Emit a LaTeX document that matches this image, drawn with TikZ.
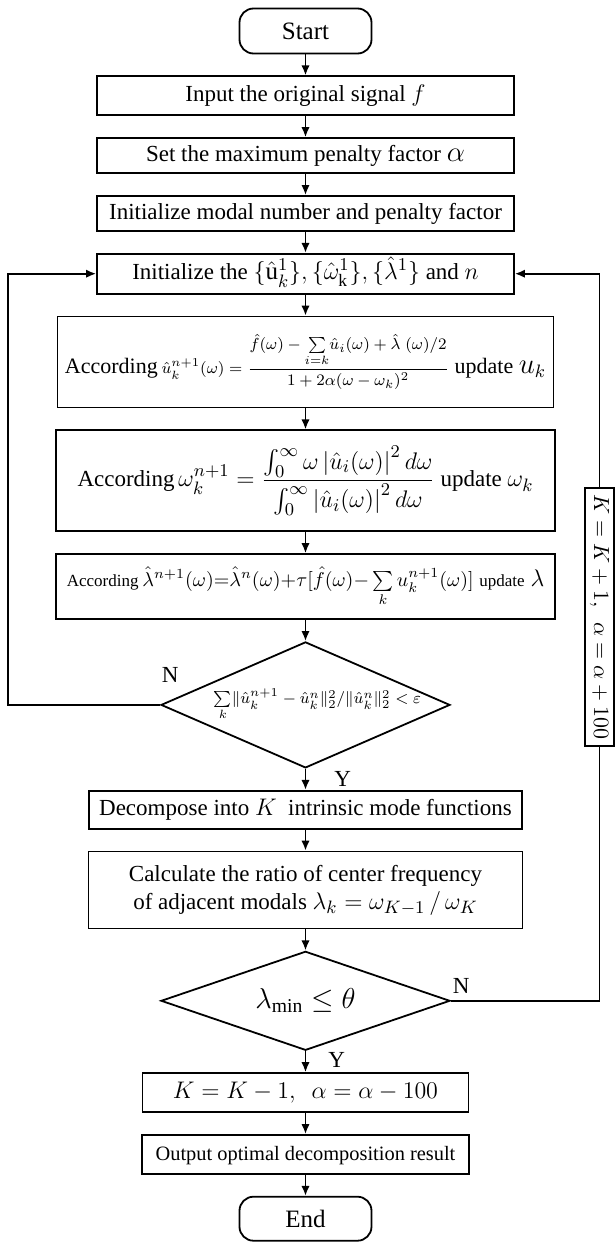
\documentclass[tikz,border=0pt]{standalone}
\usepackage{amsmath}
\usepackage{fontspec}
\setmainfont{Liberation Serif}
\usepackage{tikz}
\usetikzlibrary{shapes,arrows,positioning,calc,arrows.meta}
\usetikzlibrary{shapes.geometric}

\begin{document}
\begin{tikzpicture}[node distance=10.5pt, auto, line width=0.9pt,
    process/.style={rectangle, draw, align=center, inner sep=1.5pt, font=\fontsize{11.5}{14}\selectfont},
    oneline/.style={text height=9pt, text depth=3pt},
    term/.style={rectangle, draw, rounded corners=7pt, minimum width=66pt, minimum height=22.5pt, font=\fontsize{12.5}{15}\selectfont},
    decision/.style={diamond, draw, inner sep=0pt, minimum width=144.5pt, font=\fontsize{8.1}{12}\selectfont},
    tag/.style={inner sep=0pt, font=\fontsize{11.5}{14}\selectfont},
    flow/.style={draw, -{Latex[length=5pt, width=4.2pt]}}]
    \useasboundingbox (-152.75pt,15.5pt) rectangle (154.75pt,-605.5pt);

    \node[term] (start) at (0,0) {Start};
    \node[process, oneline, minimum width=208.5pt, minimum height=19.5pt, below=of start] (input) {Input the original signal $f$};
    \node[process, oneline, minimum width=208.5pt, minimum height=17.5pt, below=of input] (setmax) {Set the maximum penalty factor {\fontsize{14}{14}\selectfont$\alpha$}};
    \node[process, oneline, minimum width=208.5pt, minimum height=17.5pt, below=of setmax] (initmod) {Initialize modal number and penalty factor};
    \node[process, oneline, minimum width=208.5pt, minimum height=20pt, below=of initmod] (init) {Initialize the {\fontsize{12.5}{14}\selectfont$\{\hat{\mathrm{u}}_k^1\},\{\hat{\omega}_{\mathrm{k}}^1\},\{\hat{\lambda}^1\}$} and $n$};
    \node[process, minimum width=248pt, minimum height=45.5pt, below=of init, font=\fontsize{11}{13}\selectfont] (updu) {According\,{\fontsize{8.2}{10}\selectfont$\hat{u}_k^{n+1}(\omega) = \dfrac{\hat{f}(\omega) - {\textstyle\sum\limits_{i=k}}\hat{u}_i(\omega) + \hat{\lambda}\;(\omega)/2}{1 + 2\alpha(\omega - \omega_k)^2}$}\ update {\fontsize{13.5}{14}\selectfont$u_k$}};
    \node[process, minimum width=249.5pt, minimum height=50.5pt, below=of updu] (updw) {According\,{\fontsize{13}{15}\selectfont$\omega_k^{n+1} = \dfrac{\textstyle\int_0^\infty \omega\left|\hat{u}_i(\omega)\right|^2 d\omega}{\textstyle\int_0^\infty \left|\hat{u}_i(\omega)\right|^2 d\omega}$}\ update {\fontsize{13}{14}\selectfont$\omega_k$}};
    \node[process, minimum width=249.5pt, minimum height=32.5pt, below=of updw] (updl) {{\fontsize{8.5}{10}\selectfont According}\,{\fontsize{9.8}{12}\selectfont$\hat{\lambda}^{n+1}(\omega){=}\hat{\lambda}^n(\omega){+}\tau[\hat{f}(\omega){-}\sum\limits_k u_k^{n+1}(\omega)]$}\ {\fontsize{8.5}{11}\selectfont update} {\fontsize{11.5}{12}\selectfont$\lambda$}};
    \node[decision, minimum height=63pt, below=of updl] (conv) {\makebox[0pt]{\hspace*{12pt}$\sum\limits_k \lVert\hat{u}_k^{n+1} - \hat{u}_k^n\rVert_2^2 / \lVert\hat{u}_k^n\rVert_2^2 < \varepsilon$}};
    \node[process, oneline, minimum width=216.5pt, minimum height=19pt, below=of conv] (decomp) {Decompose into $K$\ \ intrinsic mode functions};
    \node[process, minimum width=217pt, minimum height=38.5pt, below=of decomp] (ratio) {Calculate the ratio of center frequency\\ of adjacent modals {\fontsize{13}{14}\selectfont$\lambda_k = \omega_{K-1} \,/\, \omega_K$}};
    \node[decision, minimum height=49.5pt, below=of ratio, font=\fontsize{14}{16}\selectfont] (check) {\makebox[0pt]{$\lambda_{\min} \le \theta$}};
    \node[process, oneline, minimum width=163pt, minimum height=19.5pt, below=of check, font=\fontsize{12}{14}\selectfont] (kminus) {$K = K-1,\ \ \alpha = \alpha - 100$};
    \node[process, oneline, minimum width=163.5pt, minimum height=19.5pt, below=of kminus, font=\fontsize{10.2}{12}\selectfont] (output) {Output optimal decomposition result};
    \node[term, minimum height=22pt, below=of output] (stop) {End};

    % loop back on the right
    \node[rectangle, draw, rotate=-90, inner sep=1pt, minimum width=129pt, minimum height=14.5pt, font=\fontsize{11}{13}\selectfont] (kplus) at (147pt,-293pt) {$K = K+1,\ \ \alpha = \alpha + 100$};
    \coordinate[left=76pt of conv.west] (loopl);

    \draw[flow] (start) -- (input);
    \draw[flow] (input) -- (setmax);
    \draw[flow] (setmax) -- (initmod);
    \draw[flow] (initmod) -- (init);
    \draw[flow] (init) -- (updu);
    \draw[flow] (updu) -- (updw);
    \draw[flow] (updw) -- (updl);
    \draw[flow] (updl) -- (conv);
    \draw[flow] (conv) -- (decomp);
    \draw[flow] (decomp) -- (ratio);
    \draw[flow] (ratio) -- (check);
    \draw[flow] (check) -- (kminus);
    \draw[flow] (kminus) -- (output);
    \draw[flow] (output) -- (stop);

    \draw[flow] (conv.west) -- (loopl) |- (init.west);
    \draw (check.east) -| (kplus);
    \draw[flow] (kplus) |- (init.east);

    \node[tag, anchor=south west] (nconv) at ($(conv.west)+(0.5pt,11pt)$) {N};
    \node[tag, anchor=west] (yconv) at ($(conv.south)+(14pt,-5pt)$) {Y};
    \node[tag, anchor=south west] (ncheck) at ($(check.east)+(0.5pt,3pt)$) {N};
    \node[tag, anchor=west] (ycheck) at ($(check.south)+(11pt,-4.5pt)$) {Y};
\end{tikzpicture}
\end{document}
